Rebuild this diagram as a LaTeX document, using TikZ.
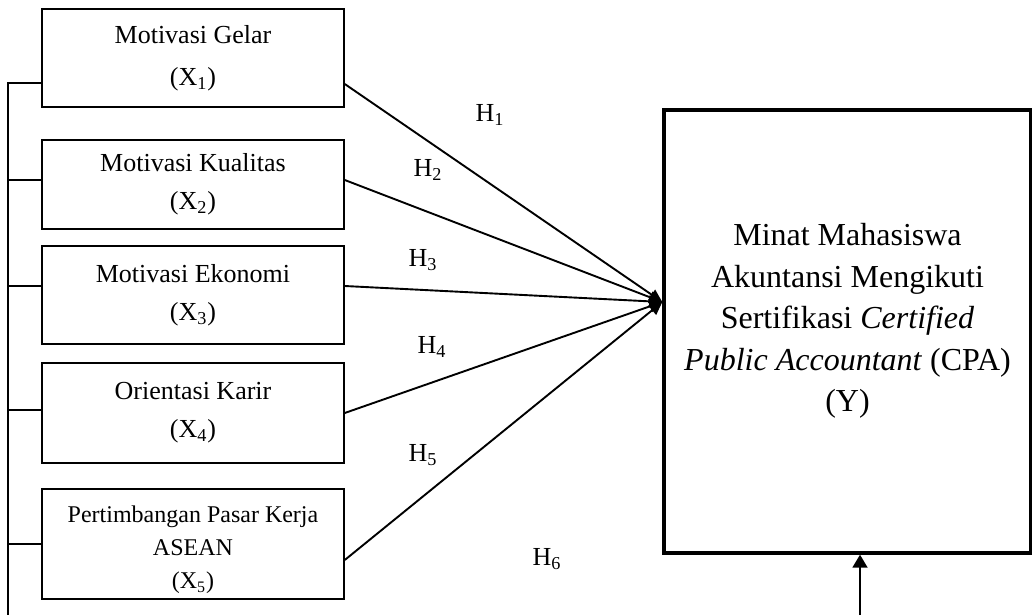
\documentclass[tikz,border=0pt]{standalone}
\usepackage{fontspec}
\setmainfont{Liberation Serif}
\usetikzlibrary{arrows.meta, positioning, calc}

\tikzset{
  varbox/.style={draw, line width=0.75pt, minimum width=151pt, align=center, inner sep=0pt, font=\fontsize{13}{19}\selectfont},
  ybox/.style={draw, line width=1.7pt, minimum width=183.5pt, minimum height=221.5pt, align=center, font=\fontsize{16}{20.75}\selectfont},
  hyp/.style={-{Triangle[length=6.5pt,width=6pt]}, line width=0.95pt},
  bus/.style={line width=0.75pt},
  hlabel/.style={font=\fontsize{13}{15}\selectfont}
}

\begin{document}
\begin{tikzpicture}[x=0.5pt, y=-0.5pt]
    \useasboundingbox (0,0) rectangle (1032,615);

    % Variabel bebas
    \node[varbox, minimum height=49pt, font=\fontsize{13}{21}\selectfont] (x1) at (193,58) {Motivasi Gelar\\(X\textsubscript{1})};
    \node[varbox, minimum height=44.5pt] (x2) at (193,184.5) {Motivasi Kualitas\\(X\textsubscript{2})};
    \node[varbox, minimum height=49pt] (x3) at (193,295) {Motivasi Ekonomi\\(X\textsubscript{3})};
    \node[varbox, minimum height=50pt] (x4) at (193,413) {Orientasi Karir\\(X\textsubscript{4})};
    \node[varbox, minimum height=55pt, font=\fontsize{12}{16.5}\selectfont] (x5) at (193,544) {\mbox{}\\[-2.5pt]Pertimbangan Pasar Kerja\\ASEAN\\(X\textsubscript{5})};

    % Variabel terikat
    \node[ybox] (y) at (847.5,331.5) {Minat Mahasiswa\\Akuntansi Mengikuti\\Sertifikasi \textit{Certified}\\\textit{Public Accountant} (CPA)\\(Y)\\[-7pt]\mbox{}};
    \coordinate (meet) at ([yshift=14.75pt]y.west);

    % Garis simultan
    \coordinate (bustop) at (8,83);
    \coordinate (busend) at (8,615);
    \draw[bus] (bustop) -- (busend);

    % Hipotesis
    \foreach \b/\da/\dt in {x1/-13/-12.5, x2/2.25/2.25, x3/4.5/4.5, x4/0/1.5, x5/-8/0} {
        \draw[hyp] ([yshift=\da pt]\b.east) -- (meet);
        \draw[bus] ([yshift=\dt pt]\b.west) -- ++(-34,0);
    }

    \coordinate (feed) at (860,615);
    \draw[hyp, -{Triangle[length=6.5pt,width=7.5pt]}] (feed) -- (feed |- y.south);

    \node[hlabel] (h1) at (490,115) {H\textsubscript{1}};
    \node[hlabel] (h2) at (428,170) {H\textsubscript{2}};
    \node[hlabel] (h3) at (423,260) {H\textsubscript{3}};
    \node[hlabel] (h4) at (432,347) {H\textsubscript{4}};
    \node[hlabel] (h5) at (423,455) {H\textsubscript{5}};
    \node[hlabel] (h6) at (547,559) {H\textsubscript{6}};

\end{tikzpicture}
\end{document}
